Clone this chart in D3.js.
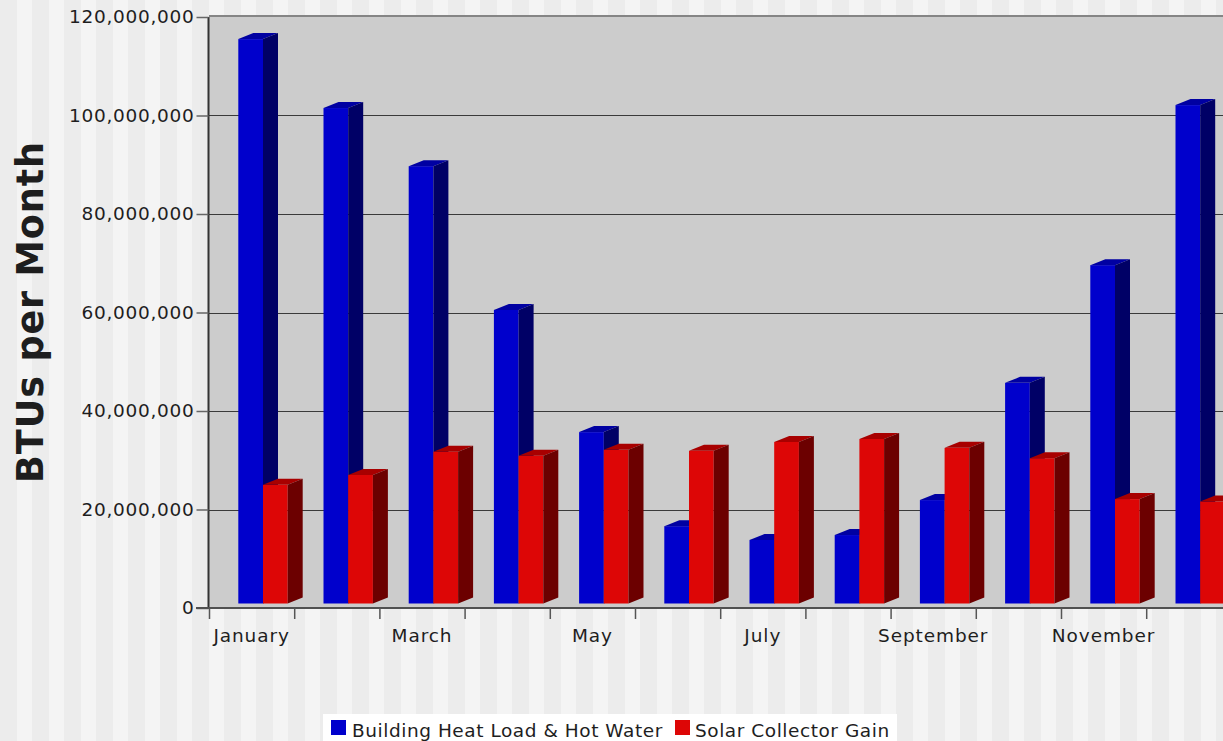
<!DOCTYPE html>
<html>
<head>
<meta charset="utf-8">
<script src="https://cdn.jsdelivr.net/npm/d3@7"></script>
<style>
  html, body { margin: 0; padding: 0; background: #ececec; }
  svg { display: block; }
  text { font-family: "DejaVu Sans", Verdana, sans-serif; fill: #1e1e1e; }
</style>
</head>
<body>
<svg id="chart" width="1223" height="741"></svg>
<script>
// Monthly energy balance, in BTUs
const months = ["January", "February", "March", "April", "May", "June",
                "July", "August", "September", "October", "November", "December"];
const seriesNames = ["Building Heat Load & Hot Water", "Solar Collector Gain"];
const heatLoad = [114.6e6, 100.6e6, 88.8e6, 59.6e6, 34.8e6, 15.7e6,
                  12.9e6, 13.9e6, 21.0e6, 44.8e6, 68.7e6, 101.2e6];
const solarGain = [24.1e6, 26.1e6, 30.8e6, 30.0e6, 31.2e6, 31.0e6,
                   32.8e6, 33.4e6, 31.6e6, 29.5e6, 21.2e6, 20.7e6];
const yTicks = [0, 20e6, 40e6, 60e6, 80e6, 100e6, 120e6];
const shownMonthLabels = ["January", "March", "May", "July", "September", "November"];

const palette = {
  front: ["#0000cc", "#dd0606"],
  top:   ["#0000a2", "#a80000"],
  side:  ["#000066", "#6c0000"]
};

const W = 1223, H = 741;
const svg = d3.select("#chart");

// striped backdrop
const stripe = 32;
svg.append("rect").attr("width", W).attr("height", H).attr("fill", "#ececec");
svg.append("g").selectAll("rect")
  .data(d3.range(0, Math.ceil(W / stripe)))
  .join("rect")
  .attr("x", d => d * stripe + 17)
  .attr("y", 0)
  .attr("width", 15)
  .attr("height", H)
  .attr("fill", "#f4f4f4");

// plot geometry
const plotLeft = 209, plotTop = 17, plotBottom = 608;
const bandW = 85.2;
const x = d3.scaleBand().domain(months)
  .range([plotLeft, plotLeft + bandW * months.length])
  .paddingInner(0).paddingOuter(0);
const xs = d3.scaleBand().domain(seriesNames).range([29.3, 29.3 + 49.4]).padding(0);
const y = d3.scaleLinear().domain([0, 120e6]).range([plotBottom, plotTop]);

// depth of the extruded bars
const dx = 15, dy = 6, lift = 4.5;

// plot background
svg.append("rect")
  .attr("x", plotLeft).attr("y", plotTop)
  .attr("width", W - plotLeft).attr("height", plotBottom - plotTop)
  .attr("fill", "#cccccc");
svg.append("line")
  .attr("x1", plotLeft).attr("x2", W)
  .attr("y1", plotTop - 1).attr("y2", plotTop - 1)
  .attr("stroke", "#858585").attr("stroke-width", 2);

// gridlines
svg.append("g").selectAll("line")
  .data(yTicks.filter(d => d > 0 && d < 120e6))
  .join("line")
  .attr("x1", plotLeft).attr("x2", W)
  .attr("y1", d => Math.round(y(d)) + 0.5).attr("y2", d => Math.round(y(d)) + 0.5)
  .attr("stroke", "#3a3a3a").attr("stroke-width", 1.2);

// y axis
const yAxis = d3.axisLeft(y).tickValues(yTicks).tickFormat(d3.format(",")).tickSize(12).tickPadding(2);
const gy = svg.append("g").attr("transform", `translate(${plotLeft - 0.5},0)`).call(yAxis);
gy.select(".domain").attr("stroke", "#333").attr("stroke-width", 2).attr("d", `M0,${plotTop}V${plotBottom}`);
gy.selectAll(".tick line").attr("stroke", "#666").attr("stroke-width", 1.5);
gy.selectAll(".tick text")
  .attr("font-size", 18.5).attr("font-family", "DejaVu Sans")
  .attr("letter-spacing", "0.7px").attr("fill", "#1e1e1e");

// x axis line and ticks at category boundaries
svg.append("line")
  .attr("x1", plotLeft - 13).attr("x2", W)
  .attr("y1", plotBottom).attr("y2", plotBottom)
  .attr("stroke", "#505050").attr("stroke-width", 2);
svg.append("g").selectAll("line")
  .data(months)
  .join("line")
  .attr("x1", d => x(d) + 0.5).attr("x2", d => x(d) + 0.5)
  .attr("y1", plotBottom).attr("y2", plotBottom + 11)
  .attr("stroke", "#555").attr("stroke-width", 1.5);
svg.append("g").selectAll("text")
  .data(shownMonthLabels)
  .join("text")
  .attr("x", d => x(d) + x.bandwidth() / 2)
  .attr("y", 642)
  .attr("text-anchor", "middle")
  .attr("font-size", 18.5)
  .attr("letter-spacing", "0.9px")
  .text(d => d);

// 3D bars
const rows = months.map((m, i) => ({ month: m, values: [heatLoad[i], solarGain[i]] }));
const bars = svg.append("g");
rows.forEach(r => {
  r.values.forEach((v, s) => {
    const x0 = x(r.month) + xs(seriesNames[s]);
    const w = xs.bandwidth();
    const yt = y(v) - lift, yb = y(0) - lift;
    const g = bars.append("g");
    g.append("rect").attr("x", x0).attr("y", yt).attr("width", w).attr("height", yb - yt)
      .attr("fill", palette.front[s]);
    g.append("path")
      .attr("d", `M${x0},${yt}L${x0 + dx},${yt - dy}L${x0 + w + dx},${yt - dy}L${x0 + w},${yt}Z`)
      .attr("fill", palette.top[s]);
    g.append("path")
      .attr("d", `M${x0 + w},${yt}L${x0 + w + dx},${yt - dy}L${x0 + w + dx},${yb - dy}L${x0 + w},${yb}Z`)
      .attr("fill", palette.side[s]);
  });
});

// y axis title
svg.append("text")
  .attr("transform", "translate(43,312) rotate(-90)")
  .attr("text-anchor", "middle")
  .attr("font-size", 36.5)
  .attr("font-weight", "bold")
  .attr("letter-spacing", "0.9px")
  .attr("fill", "#111")
  .text("BTUs per Month");

// legend
const legend = svg.append("g");
legend.append("rect").attr("x", 323).attr("y", 714).attr("width", 574).attr("height", 40).attr("fill", "#ffffff");
const items = [
  { name: seriesNames[0], sx: 331, tx: 352 },
  { name: seriesNames[1], sx: 675, tx: 695 }
];
items.forEach((it, i) => {
  legend.append("rect").attr("x", it.sx).attr("y", 720).attr("width", 15).attr("height", 15)
    .attr("fill", palette.front[i]);
  legend.append("text").attr("x", it.tx).attr("y", 737)
    .attr("font-size", 18.5).attr("letter-spacing", "0.55px").text(it.name);
});
</script>
</body>
</html>
